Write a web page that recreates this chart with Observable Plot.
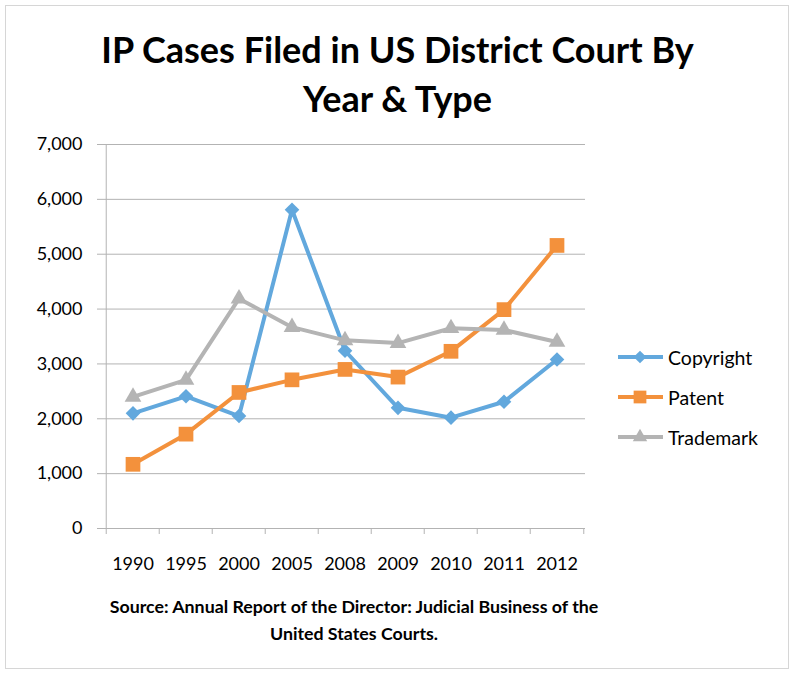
<!DOCTYPE html>
<html>
<head>
<meta charset="utf-8">
<script src="https://cdn.jsdelivr.net/npm/d3@7"></script>
<script src="https://cdn.jsdelivr.net/npm/@observablehq/plot@0.6"></script>
<style>
  html, body { margin: 0; padding: 0; background: #fff; }
  #wrap { position: relative; width: 795px; height: 676px; font-family: Lato, "Open Sans", sans-serif; color: #000; }
  #frame { position: absolute; left: 5px; top: 5px; width: 784px; height: 664px; border: 1px solid #d6d6d6; box-sizing: border-box; }
  #title { position: absolute; left: 0; width: 795px; top: 25px; text-align: center; font-weight: 700; font-size: 36px; line-height: 49px; }
  #chart { position: absolute; left: 0; top: 120px; }
  #legend { position: absolute; left: 614px; top: 0; }
  .item { position: absolute; left: 0; height: 24px; display: flex; align-items: center; font-size: 19.5px; white-space: nowrap; }
  .item svg { margin-right: 4px; }
  #caption { position: absolute; left: 0; width: 708px; top: 593px; text-align: center; font-weight: 700; font-size: 17.8px; line-height: 27px; }
</style>
</head>
<body>
<div id="wrap">
  <div id="frame"></div>
  <div id="title">IP Cases Filed in US District Court By<br>Year &amp; Type</div>
  <div id="chart"></div>
  <div id="legend"></div>
  <div id="caption">Source: Annual Report of the Director: Judicial Business of the<br>United States Courts.</div>
</div>
<script>
const years = ["1990", "1995", "2000", "2005", "2008", "2009", "2010", "2011", "2012"];
const copyright = [2100, 2410, 2050, 5810, 3240, 2200, 2020, 2310, 3080];
const patent = [1170, 1720, 2480, 2710, 2900, 2760, 3230, 3990, 5160];
const trademark = [2400, 2710, 4190, 3670, 3430, 3380, 3650, 3620, 3400];
const seriesNames = ["Copyright", "Patent", "Trademark"];
const seriesColors = ["#62a8dd", "#f3913c", "#b4b4b4"];
const seriesSymbols = ["diamond2", "square", "triangle"];
const seriesRadius = [6.6, 8.3, 6.2];
const yTicks = [0, 1000, 2000, 3000, 4000, 5000, 6000, 7000];

const seriesValues = [copyright, patent, trademark];
const rows = [];
seriesNames.forEach((s, si) => years.forEach((y, i) => rows.push({series: s, year: y, value: seriesValues[si][i]})));

const W = 795, H = 470, mL = 103, mR = 210, mT = 24, mB = 62;
const bw = (W - mL - mR) / years.length;
const font = "Lato, 'Open Sans', sans-serif";

const marks = [
  Plot.gridY(yTicks, {stroke: "#b3b3b3", strokeOpacity: 1, strokeWidth: 1}),
  Plot.ruleX([years[0]], {x: d => d, dx: -bw / 2, stroke: "#b3b3b3"}),
  Plot.ruleX(years, {x: d => d, dx: -bw / 2, y1: 0, y2: 0, insetBottom: -6, stroke: "#b3b3b3"}),
  Plot.ruleX([years[years.length - 1]], {x: d => d, dx: bw / 2, y1: 0, y2: 0, insetBottom: -6, stroke: "#b3b3b3"}),
  Plot.axisY(yTicks, {tickSize: 6, tickPadding: 15, tickFormat: d3.format(","), label: null, stroke: "#b3b3b3", fill: "#000", fontSize: 18}),
  Plot.axisX({tickSize: 0, tickPadding: 29, label: null, fill: "#000", fontSize: 18})
];
seriesNames.forEach((s, si) => {
  marks.push(Plot.line(rows, {filter: d => d.series === s, x: "year", y: "value", stroke: seriesColors[si], strokeWidth: 4}));
});
seriesNames.forEach((s, si) => {
  marks.push(Plot.dot(rows, {filter: d => d.series === s, x: "year", y: "value", symbol: () => seriesSymbols[si], r: seriesRadius[si], fill: seriesColors[si], stroke: "none"}));
});

const chart = Plot.plot({
  width: W, height: H,
  marginLeft: mL, marginRight: mR, marginTop: mT, marginBottom: mB,
  style: {fontFamily: font, fontSize: "18px", background: "transparent", color: "#000"},
  x: {type: "band", domain: years, padding: 0},
  y: {domain: [0, 7000]},
  symbol: {type: "identity"},
  marks
});
document.getElementById("chart").appendChild(chart);

// legend
const legend = document.getElementById("legend");
const legendY = [345, 385, 425];
seriesNames.forEach((s, si) => {
  const item = document.createElement("div");
  item.className = "item";
  item.style.top = legendY[si] + "px";
  const svg = d3.create("svg").attr("width", 50).attr("height", 20);
  svg.append("line").attr("x1", 4).attr("x2", 49).attr("y1", 10).attr("y2", 10).attr("stroke", seriesColors[si]).attr("stroke-width", 4);
  const symType = {diamond2: d3.symbolDiamond2, square: d3.symbolSquare, triangle: d3.symbolTriangle}[seriesSymbols[si]];
  svg.append("path").attr("transform", "translate(26,10)").attr("d", d3.symbol(symType, Math.PI * seriesRadius[si] * seriesRadius[si] * 0.75)()).attr("fill", seriesColors[si]);
  item.appendChild(svg.node());
  const t = document.createElement("span");
  t.textContent = s;
  item.appendChild(t);
  legend.appendChild(item);
});
</script>
</body>
</html>
